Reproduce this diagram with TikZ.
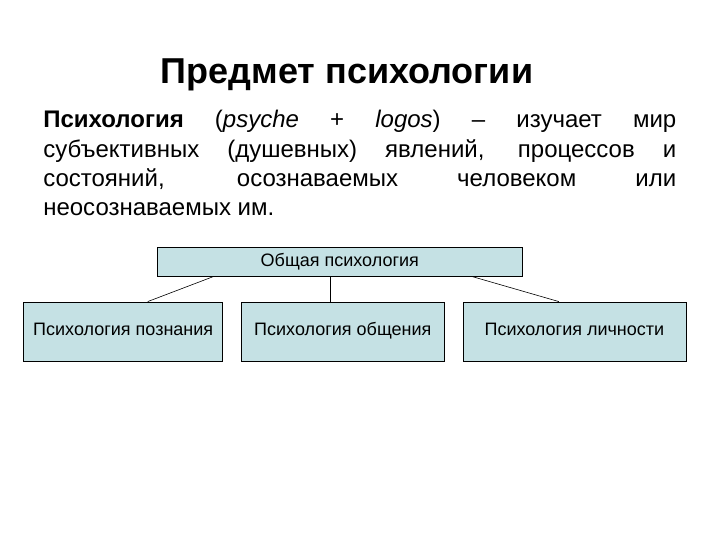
\documentclass[tikz,border=0pt]{standalone}
\usepackage{fontspec}
\setmainfont{Liberation Sans}
\usetikzlibrary{positioning}
\definecolor{boxfill}{RGB}{197,225,228}
\begin{document}
\begin{tikzpicture}[x=1pt, y=-1pt, line width=0.6pt,
    branch/.style={draw, fill=boxfill, inner sep=0pt, minimum height=59pt, text height=13pt, text depth=4pt,
        font=\fontsize{18}{21}\selectfont}]
    \useasboundingbox (0,0) rectangle (720,540);

    \node [anchor=base, font=\fontsize{36}{40}\selectfont\bfseries] (title) at (347,84) {Предмет психологии};
    \node [anchor=base west, inner sep=0pt, text width=633pt, align=justify, font=\fontsize{24}{29.3}\selectfont] (def) at (43,128)
        {\textbf{Психология} (\textit{psyche} + \textit{logos}) -- изучает мир\linebreak
         субъективных (душевных) явлений, процессов и\linebreak
         состояний, осознаваемых человеком или\linebreak
         неосознаваемых им.};

    \node [draw, fill=boxfill, inner sep=0pt, minimum width=365pt, minimum height=29pt, anchor=north west,
        text height=13pt, text depth=4pt, font=\fontsize{18}{21}\selectfont] (general) at (157,247) {Общая психология};
    \node [branch, minimum width=203pt, below=25pt of general, xshift=3pt] (comm) {Психология общения};
    \node [branch, minimum width=199pt, left=18pt of comm] (cogn) {Психология познания};
    \node [branch, minimum width=223pt, right=18pt of comm] (pers) {Психология личности};

    \draw ([xshift=-126.5pt]general.south) -- ([xshift=24.5pt]cogn.north);
    \draw ([xshift=-9.5pt]general.south) -- ([xshift=-12.5pt]comm.north);
    \draw ([xshift=132.5pt]general.south) -- ([xshift=-15.5pt]pers.north);
\end{tikzpicture}
\end{document}
